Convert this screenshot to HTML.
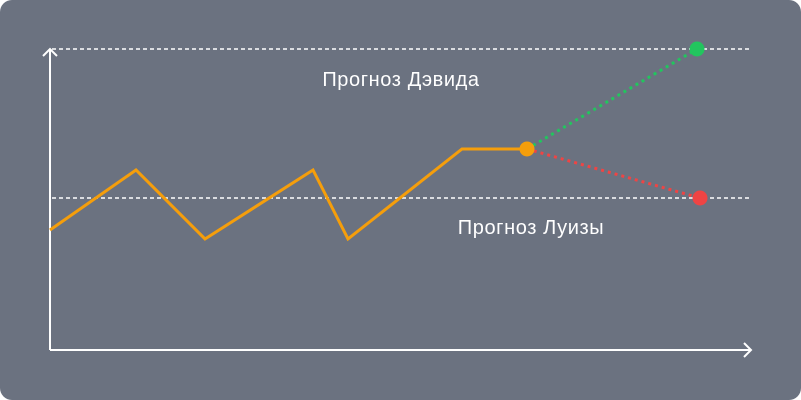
<!DOCTYPE html>
<html><head><meta charset="utf-8"><style>
html,body{margin:0;padding:0;background:#fff;}
#wrap{width:801px;height:400px;background:#6b7280;border-radius:12px;overflow:hidden;position:relative;}
svg{position:absolute;left:0;top:0;}
text{font-family:"Liberation Sans","Noto Sans CJK SC",sans-serif;font-size:20px;letter-spacing:0.6px;fill:#fff;}
</style></head><body>
<div id="wrap">
<svg id="chart" width="801" height="400"></svg>
</div>
<script>
const times = [0, 86, 155, 263, 298, 412, 477];
const values = [78.5, 118.8, 72.5, 118.8, 72.5, 132.9, 132.9];
const davidForecast = [647, 200];
const louiseForecast = [650, 100];
const refLevels = [200, 100];
const refLabels = ["Прогноз Дэвида", "Прогноз Луизы"];

const NS = "http://www.w3.org/2000/svg";
const svg = document.getElementById('chart');
const xs = t => 50 + t;
const ys = v => 347 - 1.49 * v;
function mk(tag, attrs){const e=document.createElementNS(NS,tag);for(const k in attrs)e.setAttribute(k,attrs[k]);svg.appendChild(e);return e;}

refLevels.forEach((lv,i)=>{
  const l=mk('line',{x1:52,x2:752,y1:ys(lv),y2:ys(lv),stroke:'#fff','stroke-width':1.5,'stroke-dasharray':'4 3'});
  
  
});
const t1=mk('text',{x:401,y:ys(refLevels[0])+37,'text-anchor':'middle'});t1.textContent=refLabels[0];


const t2=mk('text',{x:531,y:ys(refLevels[1])+36,'text-anchor':'middle'});t2.textContent=refLabels[1];



const ya=mk('path',{d:'M50 350 V49 M43 56 L50 49 L57 56',stroke:'#fff','stroke-width':2,fill:'none'});


const xa=mk('path',{d:'M50 350 H751 M744 343 L751 350 L744 357',stroke:'#fff','stroke-width':2,fill:'none'});



const last=times.length-1;
const gl=mk('line',{x1:xs(times[last]),y1:ys(values[last]),x2:xs(davidForecast[0]),y2:ys(davidForecast[1]),stroke:'#22c55e','stroke-width':3,'stroke-dasharray':'3 4'});


const rl=mk('line',{x1:xs(times[last]),y1:ys(values[last]),x2:xs(louiseForecast[0]),y2:ys(louiseForecast[1]),stroke:'#ef4444','stroke-width':3,'stroke-dasharray':'3 4'});



const pl=mk('polyline',{points:times.map((t,i)=>xs(t)+','+ys(values[i])).join(' '),stroke:'#f59e0b','stroke-width':3,fill:'none','stroke-linejoin':'miter'});



const c1=mk('circle',{cx:xs(times[last]),cy:ys(values[last]),r:7.5,fill:'#f59e0b'});


const c2=mk('circle',{cx:xs(davidForecast[0]),cy:ys(davidForecast[1]),r:7.5,fill:'#22c55e'});


const c3=mk('circle',{cx:xs(louiseForecast[0]),cy:ys(louiseForecast[1]),r:7.5,fill:'#ef4444'});


</script>
</body></html>
